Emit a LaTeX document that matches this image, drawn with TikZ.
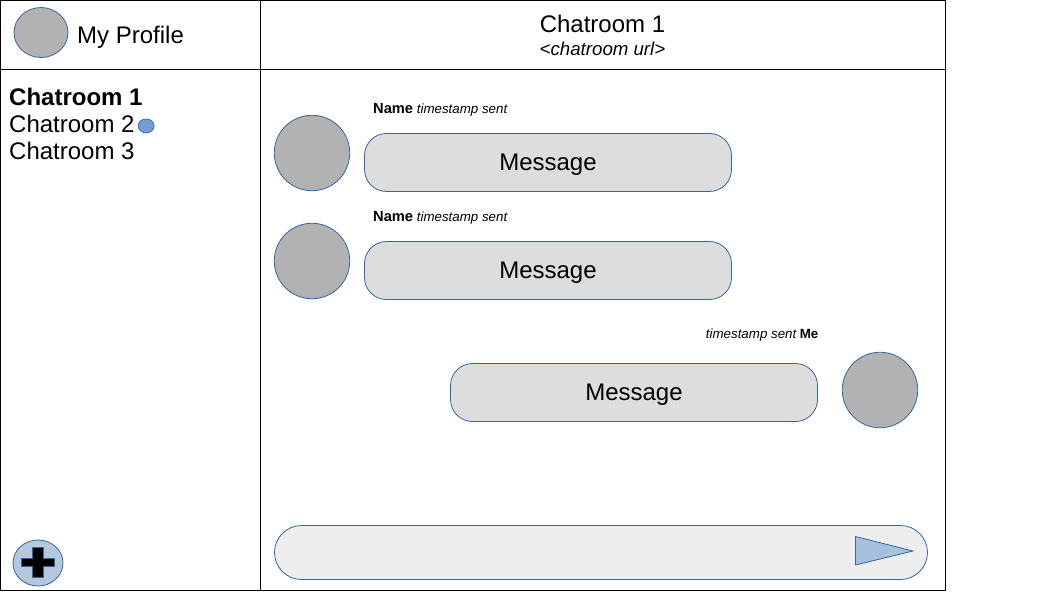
\documentclass[tikz,border=0pt]{standalone}
\usepackage{fontspec}
\setmainfont{Liberation Sans}
\usepackage{xcolor}
\usetikzlibrary{shapes.geometric, positioning}
\definecolor{edgeblue}{HTML}{3465A4}
\definecolor{dotblue}{HTML}{729FCF}
\definecolor{plusblue}{HTML}{B4C7DC}
\definecolor{sendblue}{HTML}{A7C0DE}
\definecolor{avatargrey}{HTML}{B2B2B2}
\definecolor{bubblegrey}{HTML}{DDDDDD}
\definecolor{inputgrey}{HTML}{EEEEEE}
\tikzstyle{panel} = [rectangle, anchor=north west, draw=black, line width=1pt, inner sep=0pt, outer sep=0pt]
\tikzstyle{avatar} = [ellipse, minimum width=75.5pt, minimum height=75.5pt, inner sep=0pt, outer sep=0pt, draw=edgeblue, fill=avatargrey, line width=0.8pt]
\tikzstyle{bubble} = [rectangle, rounded corners=22pt, minimum width=367pt, minimum height=58pt, inner sep=0pt, outer sep=0pt, text height=20pt, text depth=4pt, draw=edgeblue, fill=bubblegrey, line width=0.8pt, font=\fontsize{24}{28}\selectfont]
\tikzstyle{roomtext} = [anchor=base west, inner sep=0pt, font=\fontsize{24}{28}\selectfont]
\tikzstyle{metatext} = [anchor=base west, inner sep=0pt, font=\fontsize{13.33}{16}\selectfont]
\newcommand{\sentname}[1]{{\fontsize{14.67}{16}\selectfont\bfseries #1}}

\begin{document}
\begin{tikzpicture}[x=1pt, y=-1pt]
    \useasboundingbox (0,0) rectangle (1058,595);

    % Panels
    \node (profile) [panel, minimum width=260pt, minimum height=69pt] at (0.5,0.5) {};
    \node (header) [panel, minimum width=685pt, minimum height=69pt] at (260.5,0.5) {};
    \node (sidebar) [panel, minimum width=260pt, minimum height=521pt] at (0.5,69.5) {};
    \node (chat) [panel, minimum width=685pt, minimum height=521pt] at (260.5,69.5) {};

    % Profile
    \node (myAvatar) [avatar, minimum width=54pt, minimum height=50pt] at (41,32.5) {};
    \node (myName) [roomtext] at (77,43) {My Profile};

    % Header
    \node (roomTitle) [roomtext, anchor=base] at (602.5,32) {Chatroom 1};
    \node (roomUrl) [anchor=base, inner sep=0pt, font=\fontsize{18.67}{22}\selectfont\itshape] at (602.5,55) {<chatroom url>};

    % Room list
    \node (roomOne) [roomtext, font=\fontsize{24}{28}\selectfont\bfseries] at (9,105) {Chatroom 1};
    \node (roomTwo) [roomtext] at (9,132) {Chatroom 2};
    \node (roomThree) [roomtext] at (9,159) {Chatroom 3};
    \node (unread) [ellipse, minimum width=16pt, minimum height=14pt, inner sep=0pt, draw=edgeblue, fill=dotblue, line width=0.7pt, right=3pt of roomTwo.east, yshift=-2.5pt] {};

    % Add room
    \node (addRoom) [ellipse, minimum width=50pt, minimum height=46pt, inner sep=0pt, draw=edgeblue, fill=plusblue, line width=0.8pt] at (38,563) {};
    \draw [fill=black, draw=edgeblue, line width=0.7pt] (32,547) -- (43,547) -- (43,558.5) -- (54.5,558.5) -- (54.5,566) -- (43,566) -- (43,577) -- (32,577) -- (32,566) -- (21,566) -- (21,558.5) -- (32,558.5) -- cycle;

    % Messages
    \node (avatarOne) [avatar] at (312,153) {};
    \node (bubbleOne) [bubble, right=14.75pt of avatarOne, yshift=-9.5pt] {Message};
    \node (metaOne) [metatext] at (373,113) {\sentname{Name} \textit{timestamp sent}};

    \node (avatarTwo) [avatar] at (312,261) {};
    \node (bubbleTwo) [bubble, right=14.75pt of avatarTwo, yshift=-9.5pt] {Message};
    \node (metaTwo) [metatext] at (373,221) {\sentname{Name} \textit{timestamp sent}};

    \node (avatarMe) [avatar] at (880,390) {};
    \node (bubbleMe) [bubble, left=24.75pt of avatarMe, yshift=-2.5pt] {Message};
    \node (metaMe) [metatext, anchor=base east] at (818.5,338) {\textit{timestamp sent}\hspace{3pt}{\bfseries Me}};

    % Input
    \node (inputBox) [rectangle, rounded corners=27pt, minimum width=653pt, minimum height=54pt, inner sep=0pt, draw=edgeblue, fill=inputgrey, line width=0.8pt] at (601,552.5) {};
    \draw [draw=edgeblue, fill=sendblue, line width=0.8pt] (855.5,536.5) -- (913,551) -- (855.5,565) -- cycle;
\end{tikzpicture}
\end{document}
